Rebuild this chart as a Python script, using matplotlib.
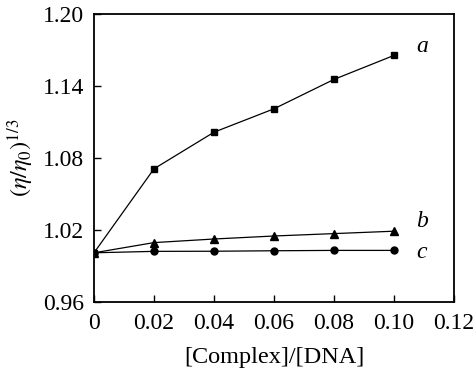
import matplotlib
matplotlib.use("Agg")
import matplotlib.pyplot as plt

x = [0, 0.02, 0.04, 0.06, 0.08, 0.10]
series_a = [1.001, 1.071, 1.1015, 1.121, 1.1455, 1.1655]
series_b = [1.001, 1.0095, 1.0125, 1.015, 1.017, 1.019]
series_c = [1.001, 1.0022, 1.0023, 1.0027, 1.003, 1.003]
labels = ["a", "b", "c"]
xticks = [0, 0.02, 0.04, 0.06, 0.08, 0.10, 0.12]
xticklabels = ["0", "0.02", "0.04", "0.06", "0.08", "0.10", "0.12"]
yticks = [0.96, 1.02, 1.08, 1.14, 1.20]
yticklabels = ["0.96", "1.02", "1.08", "1.14", "1.20"]

plt.rcParams['font.family'] = ['Liberation Serif', 'DejaVu Serif']
plt.rcParams['mathtext.fontset'] = 'stix'

fig = plt.figure(figsize=(4.75, 3.73), dpi=100)
ax = fig.add_axes([94/475, 1-302/373, 360/475, 288/373])

ax.plot(x, series_a, color='black', lw=0.9, marker='s', ms=5)
ax.plot(x, series_b, color='black', lw=0.9, marker='^', ms=5.5)
ax.plot(x, series_c, color='black', lw=0.9, marker='o', ms=5)

ax.set_xlim(0, 0.12)
ax.set_ylim(0.96, 1.20)
ax.set_xticks(xticks)
ax.set_xticklabels(xticklabels)
ax.set_yticks(yticks)
ax.set_yticklabels(yticklabels)
ax.tick_params(direction='in', length=5, width=1, labelsize=17,
               top=False, right=False)
ax.tick_params(axis='x', pad=8)
ax.tick_params(axis='y', pad=7)
for s in ax.spines.values():
    s.set_linewidth(1.3)

lbl_y = [1.1725, 1.027, 1.001]
for t, yy in zip(labels, lbl_y):
    ax.text(0.1075, yy, t, fontsize=17, style='italic', va='center', ha='left')

ax.set_xlabel('[Complex]/[DNA]', fontsize=17.5, labelpad=9)
ax.set_ylabel(r'$(\eta/\eta_0)^{1/3}$', fontsize=17.5, labelpad=5)

fig.savefig('out.png', dpi=100)
